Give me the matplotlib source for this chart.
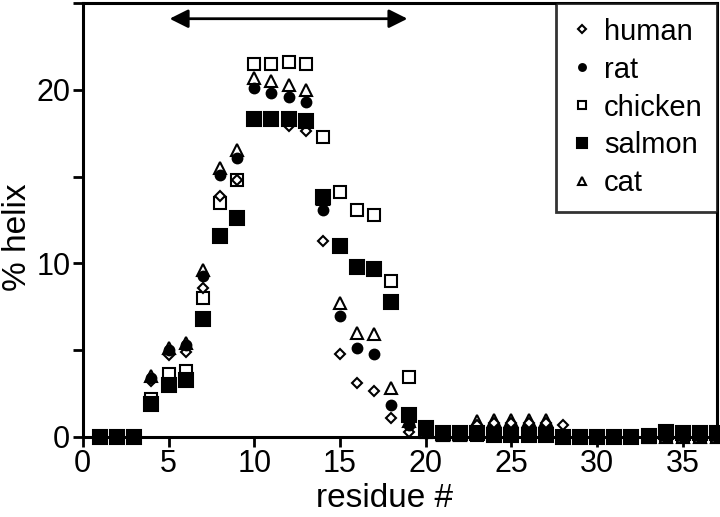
import matplotlib
matplotlib.use("Agg")
import matplotlib.pyplot as plt
import numpy as np

plt.rcParams['font.family'] = ['Liberation Sans', 'DejaVu Sans']

residues = np.arange(1, 38)

human = [0, 0, 0, 3.2, 4.7, 4.9, 8.6, 13.9, 14.8, 18.4, 18.3, 17.9, 17.6, 11.3, 4.8,
         3.1, 2.65, 1.1, 0.3, 0.2, 0.1, 0.1, 0.7, 0.8, 0.8, 0.8, 0.8, 0.7, 0, 0,
         0, 0, 0, 0, 0, 0, 0]
rat = [0, 0, 0, 3.4, 5.0, 5.3, 9.3, 15.1, 16.1, 20.1, 19.8, 19.6, 19.3, 13.05, 6.95,
       5.1, 4.8, 1.85, 0.7, 0.2, 0.1, 0.1, 0.1, 0.1, 0.1, 0.1, 0.1, 0, 0, 0,
       0, 0, 0, 0, 0, 0, 0]
chicken = [0, 0, 0, 2.2, 3.6, 3.8, 8.0, 13.5, 14.8, 21.5, 21.5, 21.6, 21.5, 17.3, 14.1,
           13.1, 12.8, 9.0, 3.45, 0.3, 0.1, 0.1, 0.1, 0.1, 0.1, 0.1, 0.1, 0, 0, 0,
           0, 0, 0, 0, 0, 0, 0]
salmon = [0, 0, 0, 1.9, 3.0, 3.3, 6.8, 11.6, 12.6, 18.3, 18.3, 18.3, 18.2, 13.8, 11.0,
          9.8, 9.7, 7.8, 1.25, 0.5, 0.2, 0.2, 0.25, 0.1, 0.1, 0.1, 0.1, 0, 0, 0,
          0, 0, 0.05, 0.3, 0.2, 0.2, 0.2]
cat = [0, 0, 0, 3.5, 5.1, 5.4, 9.6, 15.5, 16.55, 20.7, 20.5, 20.3, 20.0, 13.7, 7.7,
       6.0, 5.9, 2.8, 0.9, 0.3, 0.1, 0.1, 0.9, 0.95, 0.95, 0.95, 0.95, 0, 0, 0,
       0, 0, 0, 0, 0, 0, 0]

fig = plt.figure(figsize=(7.2, 5.17), dpi=100)
ax = fig.add_axes([0.115, 0.155, 0.881, 0.839])

kw = dict(linestyle='none', clip_on=False, markeredgecolor='black', markeredgewidth=1.5)
h_ch, = ax.plot(residues, chicken, marker='s', markersize=9, markerfacecolor='white', label='chicken', zorder=3, **kw)
h_cat, = ax.plot(residues, cat, marker='^', markersize=8, markerfacecolor='white', label='cat', zorder=4, **kw)
h_hu, = ax.plot(residues, human, marker='D', markersize=5.5, markerfacecolor='white', label='human', zorder=5, **kw)
h_rat, = ax.plot(residues, rat, marker='o', markersize=7, markerfacecolor='black', label='rat', zorder=6, **kw)
h_sa, = ax.plot(residues, salmon, marker='s', markersize=10, markerfacecolor='black', label='salmon', zorder=7, **kw)

ax.annotate('', xy=(4.9, 24.1), xytext=(19.1, 24.1),
            arrowprops=dict(arrowstyle='<|-|>', color='black', lw=2, mutation_scale=28))

ax.set_xlim(0, 37)
ax.set_ylim(0, 25)
ax.set_xticks(np.arange(0, 36, 5))
ax.set_yticks([0, 10, 20])
ax.set_yticks([5, 15, 25], minor=True)
ax.tick_params(axis='both', which='both', direction='out', length=7, width=2, labelsize=22)
ax.tick_params(axis='x', pad=2)
ax.tick_params(axis='y', pad=2)
for s in ax.spines.values():
    s.set_linewidth(2.2)

ax.set_xlabel('residue #', fontsize=24)
ax.set_ylabel('% helix', fontsize=24)
ax.xaxis.set_label_coords(0.476, -0.107)
ax.yaxis.set_label_coords(-0.078, 0.46)

leg = ax.legend([h_hu, h_rat, h_ch, h_sa, h_cat], ['human', 'rat', 'chicken', 'salmon', 'cat'],
                loc='upper right', borderaxespad=0, fancybox=False, fontsize=21,
                handlelength=0.8, handletextpad=0.35, markerscale=0.7, labelspacing=0.34,
                borderpad=0.5)
leg.get_frame().set_edgecolor('black')
leg.get_frame().set_linewidth(2)

fig.savefig('out.png', dpi=100)
